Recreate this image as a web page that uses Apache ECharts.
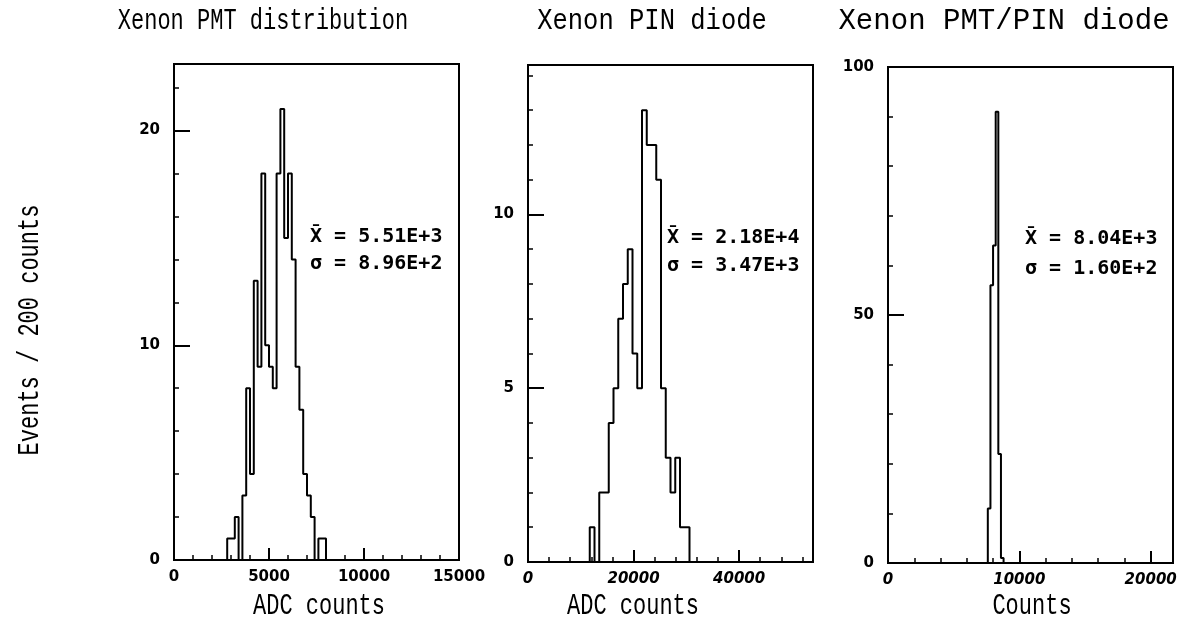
<!DOCTYPE html>
<html><head><meta charset="utf-8">
<script src="https://cdn.jsdelivr.net/npm/echarts@6/dist/echarts.min.js"></script>
<style>html,body{margin:0;padding:0;background:#fff}#c{width:1181px;height:635px}</style>
</head><body><div id="c"></div>
<script>
// ---- text ----
const titles = ['Xenon PMT distribution', 'Xenon PIN diode', 'Xenon PMT/PIN diode'];
const xNames = ['ADC counts', 'ADC counts', 'Counts'];
const yName = 'Events / 200 counts';

// ---- panel 1: Xenon PMT distribution ----
const pmtStart = 2800, pmtBinWidth = 200;
const pmtCounts = [1, 1, 2, 0, 3, 8, 4, 13, 9, 18, 10, 9, 8, 18, 21, 15, 18, 14, 9, 7, 4, 3, 2, 0, 1, 1];
const pmtStats = ['X\u0304 = 5.51E+3', '\u03c3 = 8.96E+2'];

// ---- panel 2: Xenon PIN diode ----
const pinStart = 11700, pinBinWidth = 900;
const pinCounts = [1, 0, 2, 2, 4, 5, 7, 8, 9, 6, 5, 13, 12, 12, 11, 5, 3, 2, 3, 1, 1];
const pinStats = ['X\u0304 = 2.18E+4', '\u03c3 = 3.47E+3'];

// ---- panel 3: Xenon PMT/PIN diode ----
const ratioStart = 7600, ratioBinWidth = 200;
const ratioCounts = [11, 56, 64, 91, 22, 1];
const ratioStats = ['X\u0304 = 8.04E+3', '\u03c3 = 1.60E+2'];

// ---- axis scales / tick labels ----
const xMax = [15000, 54000, 21700];
const xMajor = [5000, 20000, 10000];
const xMinor = [1000, 4000, 2000];
const yMax = [23.1, 14.3, 100];
const yMajor = [10, 5, 50];
const yMinor = [2, 1, 10];

// ---- layout ----
const grids = [
  {left: 174, top: 64, width: 285, height: 496},
  {left: 528, top: 65, width: 285, height: 497},
  {left: 888, top: 67, width: 285, height: 496}
];
const titleX = [263, 652, 1004];
const titleScaleX = [1, 1.16, 1.32];
const xNameX = [319, 633, 1032];
const statsPos = [[310, 237, 264], [667, 238, 266], [1025, 239, 269]];

function steps(start, w, counts) {
  const pts = [[start, 0]];
  counts.forEach((c, i) => pts.push([start + i * w, c]));
  pts.push([start + counts.length * w, 0]);
  return pts;
}
const hists = [
  steps(pmtStart, pmtBinWidth, pmtCounts),
  steps(pinStart, pinBinWidth, pinCounts),
  steps(ratioStart, ratioBinWidth, ratioCounts)
];
const stats = [pmtStats, pinStats, ratioStats];

const nameFont = '22px "Liberation Mono"';
const labelFont = {color: '#000', fontFamily: 'DejaVu Sans', fontWeight: 'bold', fontSize: 15};
const xAxes = [], yAxes = [], series = [], graphic = [];
function centered(text, font) {
  return {text: text, textAlign: 'center', align: 'center', textVerticalAlign: 'middle',
    verticalAlign: 'middle', font: font, fill: '#000'};
}
for (let g = 0; g < 3; g++) {
  xAxes.push({
    type: 'value', gridIndex: g, min: 0, max: xMax[g], interval: xMinor[g], position: 'bottom',
    axisLine: {show: false}, splitLine: {show: false}, axisLabel: {show: false},
    axisTick: {show: true, inside: true, length: 5, lineStyle: {color: '#000', width: 1.5}}
  });
  xAxes.push({
    type: 'value', gridIndex: g, min: 0, max: xMax[g], interval: xMajor[g], position: 'bottom',
    axisLine: {show: false}, splitLine: {show: false},
    axisTick: {show: true, inside: true, length: 12, lineStyle: {color: '#000', width: 2}},
    axisLabel: Object.assign({margin: 10, showMaxLabel: g === 0, showMinLabel: true,
      formatter: v => String(v), fontStyle: g === 0 ? 'normal' : 'italic'}, labelFont)
  });
  yAxes.push({
    type: 'value', gridIndex: g, min: 0, max: yMax[g], interval: yMinor[g], position: 'left',
    axisLine: {show: false}, splitLine: {show: false}, axisLabel: {show: false},
    axisTick: {show: true, inside: true, length: 5, lineStyle: {color: '#000', width: 1.5}}
  });
  yAxes.push({
    type: 'value', gridIndex: g, min: 0, max: yMax[g], interval: yMajor[g], position: 'left',
    axisLine: {show: false}, splitLine: {show: false},
    axisTick: {show: true, inside: true, length: 16, lineStyle: {color: '#000', width: 2}},
    axisLabel: Object.assign({margin: 14, showMaxLabel: g === 2, showMinLabel: true,
      formatter: v => String(v)}, labelFont)
  });
  series.push({
    type: 'line', xAxisIndex: 2 * g + 1, yAxisIndex: 2 * g + 1, step: 'end',
    symbol: 'none', data: hists[g], lineStyle: {color: '#000', width: 2}, silent: true
  });
  graphic.push({type: 'text', x: titleX[g], y: 21, scaleX: titleScaleX[g], scaleY: 1.3,
    style: centered(titles[g], nameFont)});
  graphic.push({type: 'text', x: xNameX[g], y: 606, scaleY: 1.3,
    style: centered(xNames[g], nameFont)});
  for (let k = 0; k < 2; k++) {
    graphic.push({type: 'text', x: statsPos[g][0], y: statsPos[g][1 + k], style: {
      text: stats[g][k], textAlign: 'left', align: 'left', textVerticalAlign: 'middle', verticalAlign: 'middle',
      font: 'bold 20px "DejaVu Sans Mono"', fill: '#000'}});
  }
}
graphic.push({type: 'text', x: 30, y: 330, rotation: Math.PI / 2, scaleY: 1.3,
  style: centered(yName, nameFont)});

const chart = echarts.init(document.getElementById('c'), null, {renderer: 'canvas'});
chart.setOption({
  animation: false,
  backgroundColor: '#fff',
  grid: grids.map(r => Object.assign({show: true, borderColor: '#000', borderWidth: 2, backgroundColor: 'transparent', containLabel: false}, r)),
  xAxis: xAxes,
  yAxis: yAxes,
  series: series,
  graphic: graphic
});
</script></body></html>
